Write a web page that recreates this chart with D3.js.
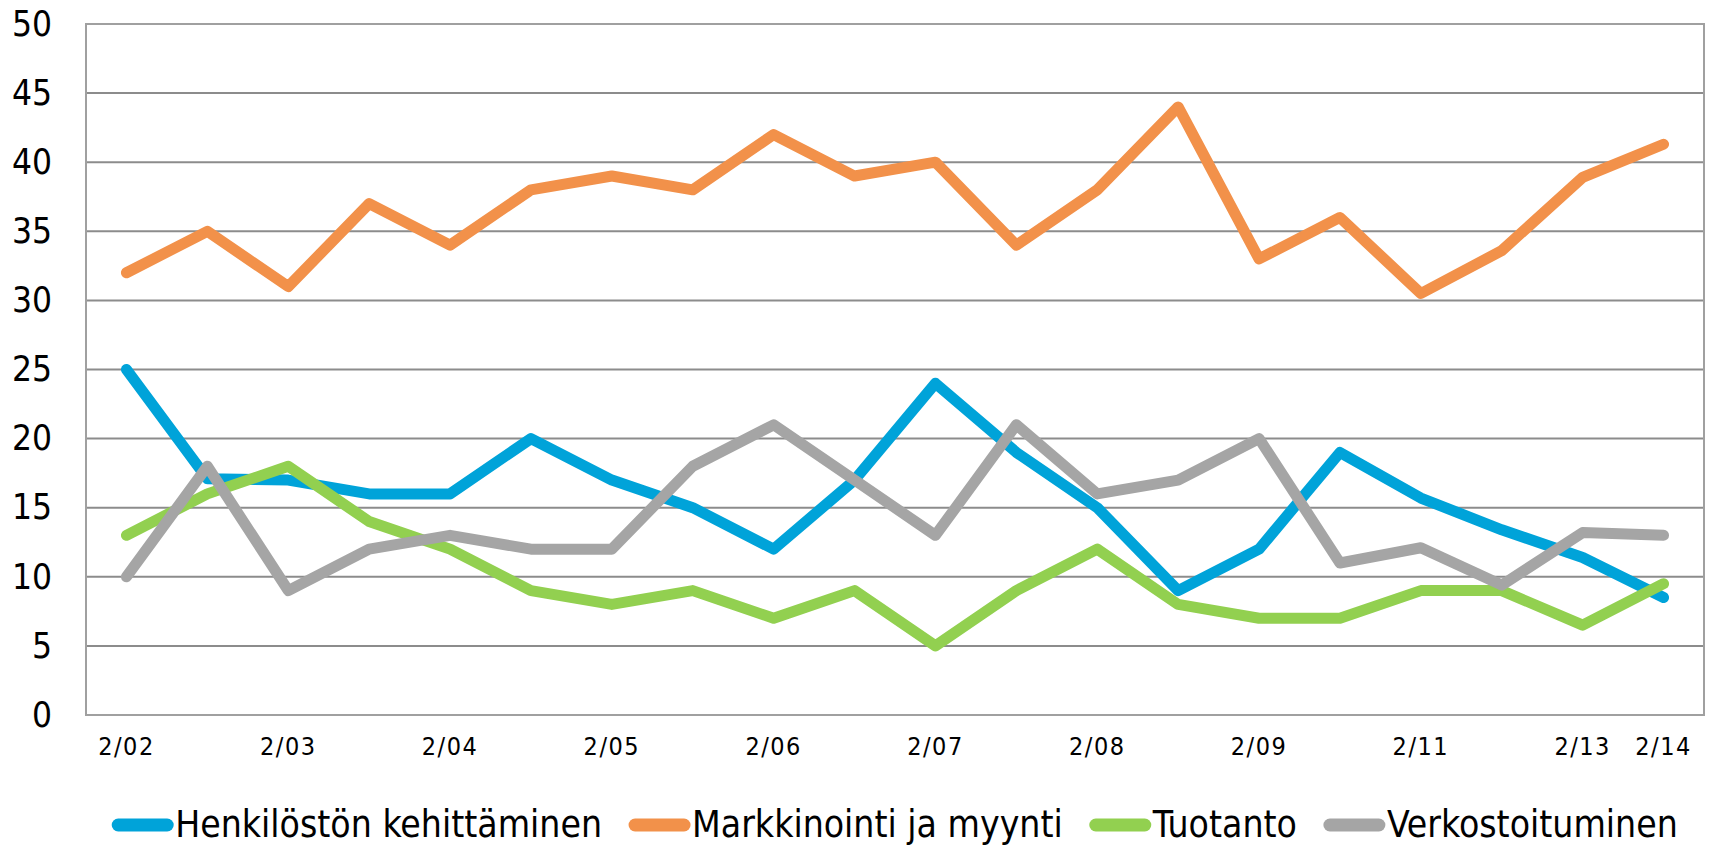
<!DOCTYPE html>
<html lang="fi">
<head>
    <meta charset="UTF-8">
    <title>Kehittämiskohteet</title>
    <script src="https://d3js.org/d3.v7.min.js"></script>
    <style>
        body { margin: 0; background: #fff; }
        text { font-family: "DejaVu Sans Condensed", "DejaVu Sans", sans-serif; fill: #000; }
    </style>
</head>
<body>
<svg width="1712" height="846"></svg>
<script>
    // categories (only every other one has a visible label)
    const periods = ["2/02", "", "2/03", "", "2/04", "", "2/05", "", "2/06", "", "2/07", "",
        "2/08", "", "2/09", "", "2/11", "", "2/13", "2/14"];

    const henkilosto = [25, 17.1, 17, 16, 16, 20, 17, 15, 12, 17, 24, 19, 15, 9, 12, 19, 15.7, 13.4, 11.4, 8.5];
    const markkinointi = [32, 35, 31, 37, 34, 38, 39, 38, 42, 39, 40, 34, 38, 44, 33, 36, 30.5, 33.6, 38.9, 41.3];
    const tuotanto = [13, 16, 18, 14, 12, 9, 8, 9, 7, 9, 5, 9, 12, 8, 7, 7, 9, 9, 6.5, 9.5];
    const verkosto = [10, 18, 9, 12, 13, 12, 12, 18, 21, 17, 13, 21, 16, 17, 20, 11, 12.1, 9.4, 13.2, 13];

    const seriesNames = ["Henkilöstön kehittäminen", "Markkinointi ja myynti", "Tuotanto", "Verkostoituminen"];
    const seriesColors = ["#00a3d9", "#f2914a", "#92d050", "#a5a5a5"];
    const yTicks = [0, 5, 10, 15, 20, 25, 30, 35, 40, 45, 50];

    let svg = d3.select("svg");
    let plotLeft = 86, plotRight = 1704, plotTop = 24, plotBottom = 715;

    let x = d3.scaleBand()
        .domain(d3.range(periods.length))
        .range([plotLeft, plotRight]);

    let y = d3.scaleLinear()
        .domain([0, 50])
        .range([plotBottom, plotTop]);

    function drawGrid() {
        svg.append("g")
            .selectAll("line")
            .data(yTicks)
            .enter()
            .append("line")
            .attr("x1", plotLeft)
            .attr("x2", plotRight)
            .attr("y1", d => y(d))
            .attr("y2", d => y(d))
            .attr("stroke", "#8c8c8c")
            .attr("stroke-width", 2);

        // plot border
        svg.append("rect")
            .attr("x", plotLeft)
            .attr("y", plotTop)
            .attr("width", plotRight - plotLeft)
            .attr("height", plotBottom - plotTop)
            .attr("fill", "none")
            .attr("stroke", "#a0a0a0")
            .attr("stroke-width", 2);

        let yAxis = d3.axisLeft(y).tickValues(yTicks).tickSize(0).tickPadding(34);
        let gy = svg.append("g").attr("transform", `translate(${plotLeft},0)`).call(yAxis);
        gy.select(".domain").remove();
        gy.selectAll("text")
            .attr("font-size", 35)
            .attr("font-family", null);

        let xAxis = d3.axisBottom(x).tickSize(0).tickPadding(22)
            .tickFormat(i => periods[i]);
        let gx = svg.append("g").attr("transform", `translate(0,${plotBottom})`).call(xAxis);
        gx.select(".domain").remove();
        gx.selectAll("text")
            .attr("font-size", 25)
            .attr("letter-spacing", 1.5)
            .attr("font-family", null);
    }

    function drawLines() {
        let data = [henkilosto, markkinointi, tuotanto, verkosto];
        let line = d3.line()
            .x((d, i) => x(i) + x.bandwidth() / 2)
            .y(d => y(d));

        svg.append("g")
            .selectAll("path")
            .data(data)
            .enter()
            .append("path")
            .attr("d", d => line(d))
            .attr("fill", "none")
            .attr("stroke", (d, i) => seriesColors[i])
            .attr("stroke-width", 11)
            .attr("stroke-linejoin", "round")
            .attr("stroke-linecap", "round");
    }

    function drawLegend() {
        let g = svg.append("g");
        let pos = 0;
        seriesNames.forEach(function (name, i) {
            let item = g.append("g").attr("transform", `translate(${pos},0)`);
            item.append("line")
                .attr("x1", 6).attr("x2", 55)
                .attr("y1", 0).attr("y2", 0)
                .attr("stroke", seriesColors[i])
                .attr("stroke-width", 13)
                .attr("stroke-linecap", "round");
            let t = item.append("text")
                .attr("x", 63)
                .attr("y", 12)
                .attr("font-size", 37)
                .text(name);
            pos += 63 + t.node().getComputedTextLength() + 27;
        });
        let total = pos - 27;
        g.attr("transform", `translate(${(plotLeft + plotRight) / 2 - total / 2},825)`);
    }

    drawGrid();
    drawLines();
    drawLegend();
</script>
</body>
</html>
